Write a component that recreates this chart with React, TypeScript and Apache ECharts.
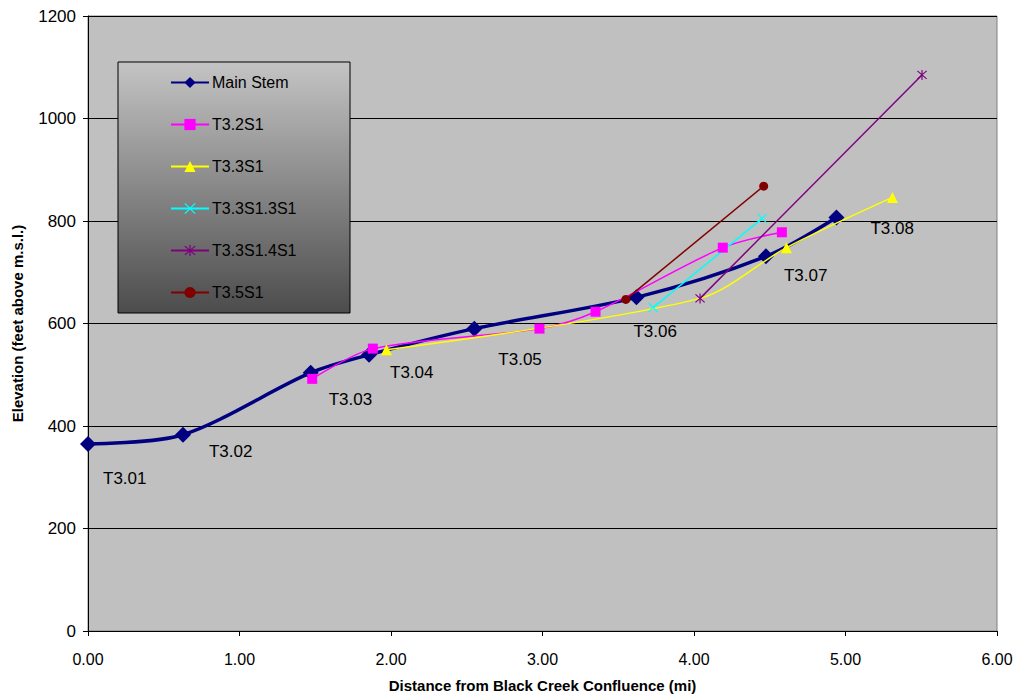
import React, { useEffect, useRef } from "react";
import * as echarts from "echarts";

// ---- data ----
const mainX = [0.0, 0.627, 1.47, 1.855, 2.55, 3.62, 4.475, 4.94];
const mainY = [365, 383, 504, 539, 590, 651, 731, 807];
const mainLabels = ["T3.01", "T3.02", "T3.03", "T3.04", "T3.05", "T3.06", "T3.07", "T3.08"];

const t32s1X = [1.48, 1.88, 2.98, 3.35, 4.19, 4.58];
const t32s1Y = [492, 551, 590, 623, 748, 778];

const t33s1X = [1.97, 4.04, 4.61, 5.31];
const t33s1Y = [549, 649, 748, 846];

const t33s13s1X = [3.73, 4.45];
const t33s13s1Y = [631, 805];

const t33s14s1X = [4.04, 5.505];
const t33s14s1Y = [649, 1085];

const t35s1X = [3.55, 4.46];
const t35s1Y = [647, 868];

const xTicks = [0, 1, 2, 3, 4, 5, 6];
const yTicks = [0, 200, 400, 600, 800, 1000, 1200];

// label placement (style only)
const labelOffsets: [number, number][] = [
  [15, 35], [26, 17], [18, 27], [21, 18], [24, 31], [-3, 34], [18, 19], [34, 11],
];

const FONT = 'Arial, "Liberation Sans", sans-serif';

const crossPath =
  "path://M-4.35,-3.65 L-3.65,-4.35 L4.35,3.65 L3.65,4.35 Z M3.65,-4.35 L4.35,-3.65 L-3.65,4.35 L-4.35,3.65 Z";
const starPath =
  "path://M-4.35,-3.65 L-3.65,-4.35 L4.35,3.65 L3.65,4.35 Z M3.65,-4.35 L4.35,-3.65 L-3.65,4.35 L-4.35,3.65 Z M-0.5,-5 L0.5,-5 L0.5,5 L-0.5,5 Z";

function pairs(xs: number[], ys: number[]) {
  return xs.map((x, i) => [x, ys[i]]);
}

export default function App() {
  const ref = useRef<HTMLDivElement>(null);
  useEffect(() => {
    if (!ref.current) return;
    const chart = echarts.init(ref.current, undefined, { renderer: "svg" });

    const mainData = mainX.map((x, i) => ({
      value: [x, mainY[i]],
      label: {
        show: true,
        formatter: mainLabels[i],
        position: "inside",
        align: "left",
        verticalAlign: "middle",
        offset: labelOffsets[i],
        color: "#000",
        fontSize: 17,
        fontFamily: FONT,
      },
    }));

    const yellowData = t33s1X.map((x, i) => {
      const item: any = { value: [x, t33s1Y[i]] };
      if (i === 1) item.symbol = "none";
      return item;
    });

    chart.setOption({
      animation: false,
      backgroundColor: "#fff",
      textStyle: { fontFamily: FONT },
      grid: {
        left: 88,
        right: 19,
        top: 16,
        bottom: 67,
        containLabel: false,
        outerBoundsMode: "none",
        show: true,
        backgroundColor: "#C0C0C0",
        borderColor: "#808080",
        borderWidth: 1,
      },
      graphic: [
        {
          type: "rect",
          z: 1,
          shape: { x: 118, y: 62, width: 232, height: 251 },
          style: {
            fill: new echarts.graphic.LinearGradient(0, 0, 0, 1, [
              { offset: 0, color: "#C4C4C4" },
              { offset: 1, color: "#4C4C4C" },
            ]),
            stroke: "#000",
            lineWidth: 1,
          },
        },
      ],
      legend: {
        z: 5,
        orient: "vertical",
        left: 170,
        top: 73,
        padding: 0,
        itemWidth: 38,
        itemHeight: 14,
        itemGap: 23,
        textStyle: { fontSize: 16, color: "#000", fontFamily: FONT, lineHeight: 19, padding: [0, 0, 0, -2] },
        data: ["Main Stem", "T3.2S1", "T3.3S1", "T3.3S1.3S1", "T3.3S1.4S1", "T3.5S1"],
      },
      xAxis: {
        type: "value",
        min: 0,
        max: 6,
        interval: 1,
        name: "Distance from Black Creek Confluence (mi)",
        nameLocation: "middle",
        nameGap: 47,
        nameTextStyle: { fontSize: 15, fontWeight: "bold", color: "#000", fontFamily: FONT },
        axisLine: { show: true, onZero: false, lineStyle: { color: "#000", width: 1 } },
        axisTick: { show: true, inside: false, length: 5, lineStyle: { color: "#000" } },
        axisLabel: {
          fontSize: 16,
          color: "#000",
          margin: 20,
          fontFamily: FONT,
          formatter: (v: number) => (xTicks.includes(v) ? v.toFixed(2) : ""),
        },
        splitLine: { show: false },
      },
      yAxis: {
        type: "value",
        min: 0,
        max: 1200,
        interval: 200,
        name: "Elevation (feet above m.s.l.)",
        nameLocation: "middle",
        nameGap: 63,
        nameTextStyle: { fontSize: 15, fontWeight: "bold", color: "#000", fontFamily: FONT },
        axisLine: { show: true, lineStyle: { color: "#000", width: 1 } },
        axisTick: { show: true, inside: false, length: 5, lineStyle: { color: "#000" } },
        axisLabel: {
          fontSize: 17,
          color: "#000",
          margin: 12,
          fontFamily: FONT,
          formatter: (v: number) => (yTicks.includes(v) ? String(v) : ""),
        },
        splitLine: { show: true, lineStyle: { color: "#000", width: 1 } },
      },
      series: [
        {
          name: "Main Stem",
          type: "line",
          smooth: 0.3,
          data: mainData,
          symbol: "diamond",
          symbolSize: 16,
          lineStyle: { color: "#000080", width: 3.5 },
          itemStyle: { color: "#000080" },
          z: 2,
        },
        {
          name: "T3.2S1",
          type: "line",
          smooth: 0.3,
          data: pairs(t32s1X, t32s1Y),
          symbol: "rect",
          symbolSize: 10,
          lineStyle: { color: "#FF00FF", width: 1.5 },
          itemStyle: { color: "#FF00FF" },
          z: 3,
        },
        {
          name: "T3.3S1",
          type: "line",
          smooth: 0.3,
          data: yellowData,
          symbol: "triangle",
          symbolSize: 11,
          lineStyle: { color: "#FFFF00", width: 1.5 },
          itemStyle: { color: "#FFFF00" },
          z: 3,
        },
        {
          name: "T3.3S1.3S1",
          type: "line",
          data: pairs(t33s13s1X, t33s13s1Y),
          symbol: crossPath,
          symbolSize: 10,
          lineStyle: { color: "#00FFFF", width: 1.5 },
          itemStyle: { color: "#00FFFF" },
          z: 3,
        },
        {
          name: "T3.3S1.4S1",
          type: "line",
          data: pairs(t33s14s1X, t33s14s1Y),
          symbol: starPath,
          symbolSize: 10,
          lineStyle: { color: "#800080", width: 1.5 },
          itemStyle: { color: "#800080" },
          z: 3,
        },
        {
          name: "T3.5S1",
          type: "line",
          data: pairs(t35s1X, t35s1Y),
          symbol: "circle",
          symbolSize: 9,
          lineStyle: { color: "#800000", width: 1.5 },
          itemStyle: { color: "#800000" },
          z: 3,
        },
      ],
    });
    return () => chart.dispose();
  }, []);
  return (
    <div
      ref={ref}
      style={{ position: "fixed", left: 0, top: 0, width: 1016, height: 698 }}
    />
  );
}
